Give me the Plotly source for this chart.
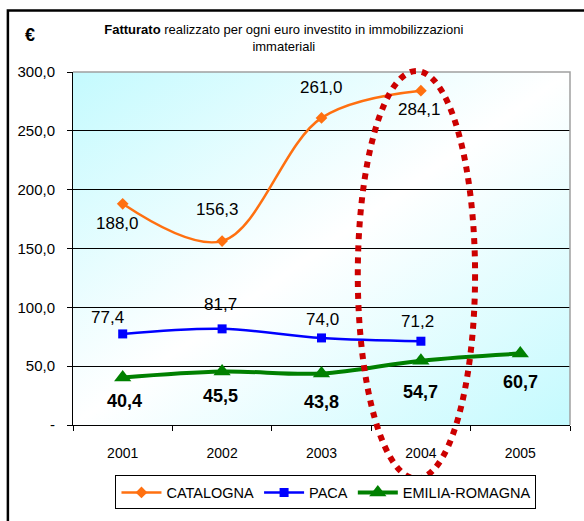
import plotly.graph_objects as go

# data
years = ["2001", "2002", "2003", "2004", "2005"]
catalogna = [188.0, 156.3, 261.0, 284.1, None]
paca = [77.4, 81.7, 74.0, 71.2, None]
emilia = [40.4, 45.5, 43.8, 54.7, 60.7]
y_ticks = [0, 50, 100, 150, 200, 250, 300]
y_ticktext = ["-", "50,0", "100,0", "150,0", "200,0", "250,0", "300,0"]

FONT = "Liberation Sans, Arial"

# label offsets in px (dx, dy down) - excel puts them a bit everywhere
cat_off = [(-5, 20), (-5, -32), (0, -30), (-1, 19)]
paca_off = [(-15, -16), (-2, -24), (1, -18), (-3, -20)]
emi_off = [(2, 24), (-2, 25), (0, 29), (0, 31), (0, 28)]

# diagonal cyan-white-cyan background like the excel fill
bg_svg = (
    "data:image/svg+xml;utf8,"
    "<svg xmlns='http://www.w3.org/2000/svg' width='100' height='100' preserveAspectRatio='none'>"
    "<defs><linearGradient id='g' x1='0' y1='0' x2='1' y2='1'>"
    "<stop offset='0' stop-color='%23c4fafe'/>"
    "<stop offset='0.5' stop-color='%23ffffff'/>"
    "<stop offset='1' stop-color='%23c4fafe'/>"
    "</linearGradient></defs>"
    "<rect width='100' height='100' fill='url(%23g)'/></svg>"
)


def fmt(v):
    return f"{v:.1f}".replace(".", ",")


def labels(values, offsets, bold=False):
    out = []
    # category axis -> annotations placed by category index
    for i, (v, (dx, dy)) in enumerate(zip(values, offsets)):
        if v is None:
            continue
        out.append(dict(
            x=i, y=v, xref="x", yref="y", showarrow=False,
            text=f"<b>{fmt(v)}</b>" if bold else fmt(v),
            xshift=dx, yshift=-dy, xanchor="center", yanchor="middle",
            font=dict(size=18 if bold else 17, color="black", family=FONT),
        ))
    return out


fig = go.Figure()

fig.add_trace(go.Scatter(
    x=years, y=catalogna, name="CATALOGNA", mode="lines+markers",
    line=dict(color="#ff7010", width=2.5, shape="spline", smoothing=1),
    marker=dict(symbol="diamond", size=9, color="#ff7010"),
))

fig.add_trace(go.Scatter(
    x=years, y=paca, name="PACA", mode="lines+markers",
    line=dict(color="#0000ff", width=2.5, shape="spline", smoothing=1),
    marker=dict(symbol="square", size=9, color="#0000ff"),
))

fig.add_trace(go.Scatter(
    x=years, y=emilia, name="EMILIA-ROMAGNA", mode="lines+markers",
    line=dict(color="#008000", width=4, shape="spline", smoothing=1),
    marker=dict(symbol="triangle-up", size=15, color="#008000"),
))

annotations = labels(catalogna, cat_off) + labels(paca, paca_off) + labels(emilia, emi_off, bold=True)
annotations.append(dict(
    text="<b>€</b>", xref="paper", yref="paper", x=-0.087, y=1.104,
    xanchor="center", yanchor="middle",
    showarrow=False, font=dict(size=18, family=FONT),
))

fig.update_layout(
    width=584, height=521,
    margin=dict(l=73, r=14, t=72, b=93),
    separators=",.",
    paper_bgcolor="white",
    plot_bgcolor="white",
    font=dict(family=FONT, color="black", size=14),
    title=dict(
        text="<b>Fatturato</b> realizzato per ogni euro investito in immobilizzazioni<br>immateriali",
        x=0.486, xanchor="center", y=0.934, yanchor="middle",
        font=dict(size=13, family=FONT),
    ),
    xaxis=dict(
        type="category", showgrid=False, showline=True, linecolor="black", linewidth=1,
        ticks="outside", tickson="boundaries", ticklen=5, tickcolor="black",
        tickfont=dict(size=14), ticklabelstandoff=15, range=[-0.5, 4.5],
    ),
    yaxis=dict(
        range=[0, 300], tickvals=y_ticks, ticktext=y_ticktext,
        showgrid=True, gridcolor="black", gridwidth=1,
        showline=True, linecolor="black", linewidth=1,
        ticks="outside", ticklen=5, tickcolor="black",
        tickfont=dict(size=15), ticklabelstandoff=9, zeroline=False,
    ),
    legend=dict(
        orientation="h", x=0.509, xanchor="center", y=-0.143, yanchor="top",
        bordercolor="black", borderwidth=1, bgcolor="white",
        font=dict(size=14.5, family=FONT), itemwidth=40,
    ),
    showlegend=True,
    images=[dict(
        source=bg_svg, xref="x domain", yref="y domain", x=0, y=1,
        sizex=1, sizey=1, sizing="stretch", xanchor="left", yanchor="top", layer="below",
    )],
    annotations=annotations,
    shapes=[
        # grey plot-area border on top and right
        dict(type="path", xref="x domain", yref="y domain",
             path="M 0 1 L 1 1 L 1 0", line=dict(color="#a0a0a0", width=1.5), layer="above"),
        # outer chart frame
        dict(type="rect", xref="paper", yref="paper", x0=-0.131, y0=-0.4, x1=1.2, y1=1.174,
             line=dict(color="black", width=2.5), layer="above"),
        # red dotted ellipse around 2004
        dict(type="circle", xref="x domain", yref="y domain", x0=0.573, x1=0.809, y0=-0.152, y1=1.003,
             line=dict(color="#cc0000", width=6, dash="dot"), layer="above"),
    ],
)

fig.write_html("out.html", config={"displayModeBar": False},
               post_script="document.body.style.margin='0';")
